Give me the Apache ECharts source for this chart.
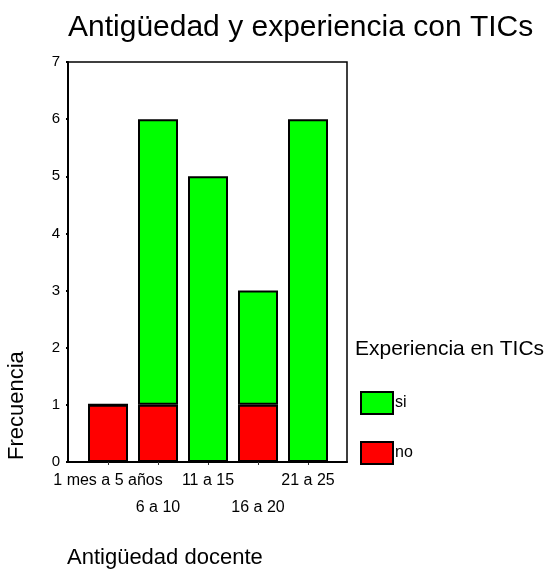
<!DOCTYPE html>
<html>
<head>
<meta charset="utf-8">
<script src="https://cdn.jsdelivr.net/npm/echarts@6/dist/echarts.min.js"></script>
<style>
html,body{margin:0;padding:0;background:#fff;}
#main{width:550px;height:574px;}
</style>
</head>
<body>
<div id="main"></div>
<script>
// datos
var categorias = ['1 mes a 5 años', '6 a 10', '11 a 15', '16 a 20', '21 a 25'];
var serie_no = [1, 1, 0, 1, 0];
var serie_si = [0, 5, 5, 2, 6];
var y_ticks = [0, 1, 2, 3, 4, 5, 6, 7];

var fuente = 'Liberation Sans, Arial, sans-serif';

var chart = echarts.init(document.getElementById('main'));
chart.setOption({
	animation: false,
	backgroundColor: '#fff',
	textStyle: { fontFamily: fuente, color: '#000' },
	title: {
		text: 'Antigüedad y experiencia con TICs',
		left: 63,
		top: 8,
		textStyle: { fontFamily: fuente, fontSize: 30, fontWeight: 'normal', color: '#000' }
	},
	legend: {
		data: ['si', 'no'],
		orient: 'vertical',
		left: 355,
		top: 386,
		icon: 'rect',
		itemWidth: 32,
		itemHeight: 22,
		itemGap: 26,
		textStyle: { fontFamily: fuente, fontSize: 16, color: '#000', padding: [0, 0, 0, -3] }
	},
	grid: [
		{ // marco y eje Y
			left: 68, top: 62, width: 279, height: 400,
			show: true, borderColor: '#000', borderWidth: 1.5,
			containLabel: false
		},
		{ // barras
			left: 83, top: 62, width: 250, height: 400,
			containLabel: false
		}
	],
	xAxis: [
		{
			gridIndex: 0, type: 'value', min: 0, max: 1,
			axisLine: { show: true, onZero: false, lineStyle: { color: '#000', width: 2 } },
			axisTick: { show: false }, axisLabel: { show: false }, splitLine: { show: false }
		},
		{
			gridIndex: 1, type: 'category', data: categorias,
			axisLine: { show: false },
			axisTick: { show: true, alignWithLabel: true, length: 3, lineStyle: { color: '#333' } },
			axisLabel: {
				interval: 0, margin: 5, fontSize: 16, lineHeight: 27, color: '#000',
				formatter: function (v, i) { return i % 2 === 1 ? '\n' + v : v; }
			},
			splitLine: { show: false }
		}
	],
	yAxis: [
		{
			gridIndex: 0, type: 'value', min: 0, max: 7, interval: 1,
			axisLine: { show: true, lineStyle: { color: '#000', width: 2 } },
			axisTick: { show: true, length: 2, lineStyle: { color: '#000', width: 2 } },
			axisLabel: {
				margin: 8, fontSize: 15, color: '#000',
				formatter: function (v) { return y_ticks.indexOf(v) >= 0 ? String(v) : ''; }
			},
			splitLine: { show: false }
		},
		{
			gridIndex: 1, type: 'value', min: 0, max: 7, interval: 1, show: false
		}
	],
	series: [
		{
			name: 'no',
			type: 'bar',
			stack: 'total',
			xAxisIndex: 1,
			yAxisIndex: 1,
			barWidth: 40,
			data: serie_no,
			itemStyle: { color: '#ff0000', borderColor: '#000', borderWidth: 2 }
		},
		{
			name: 'si',
			type: 'bar',
			stack: 'total',
			xAxisIndex: 1,
			yAxisIndex: 1,
			barWidth: 40,
			data: serie_si,
			itemStyle: { color: '#00ff00', borderColor: '#000', borderWidth: 2 }
		}
	],
	graphic: [
		{
			type: 'text', left: 355, top: 339,
			style: { text: 'Experiencia en TICs', font: '21px ' + fuente, fill: '#000' }
		},
		{
			type: 'text', left: 67, top: 547,
			style: { text: 'Antigüedad docente', font: '22px ' + fuente, fill: '#000' }
		},
		{
			type: 'text', x: 6, y: 460, rotation: Math.PI / 2,
			style: { text: 'Frecuencia', font: '22px ' + fuente, fill: '#000' }
		}
	]
});
</script>
</body>
</html>
